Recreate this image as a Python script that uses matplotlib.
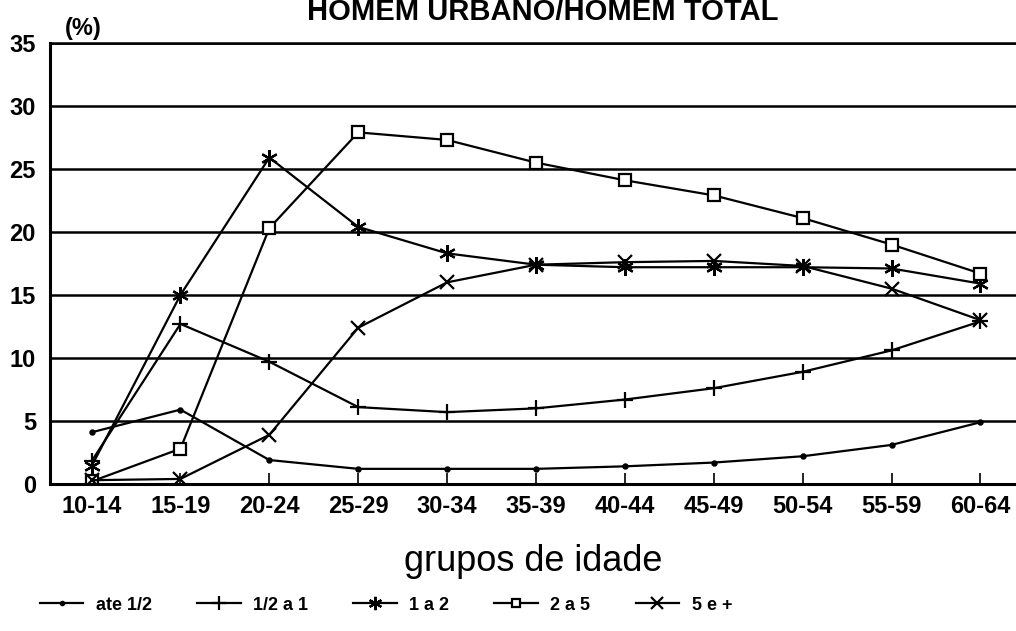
import numpy as np
import matplotlib
matplotlib.use('Agg')
import matplotlib.pyplot as plt

# age groups
grupos = ['10-14', '15-19', '20-24', '25-29', '30-34', '35-39',
          '40-44', '45-49', '50-54', '55-59', '60-64']

# percent values
ate_meio = [4.1, 5.9, 1.9, 1.2, 1.2, 1.2, 1.4, 1.7, 2.2, 3.1, 4.9]
meio_a_1 = [1.8, 12.7, 9.7, 6.1, 5.7, 6.0, 6.7, 7.6, 8.9, 10.6, 12.9]
um_a_2 = [1.4, 15.0, 25.9, 20.4, 18.3, 17.4, 17.2, 17.2, 17.2, 17.1, 15.9]
dois_a_5 = [0.2, 2.8, 20.3, 27.9, 27.3, 25.5, 24.1, 22.9, 21.1, 19.0, 16.7]
cinco_mais = [0.3, 0.4, 3.9, 12.4, 16.0, 17.4, 17.6, 17.7, 17.3, 15.5, 13.0]

yticks = [0, 5, 10, 15, 20, 25, 30, 35]

plt.rcParams['font.family'] = ['Liberation Sans', 'DejaVu Sans']

fig = plt.figure(figsize=(10.16, 6.31), dpi=100)
ax = fig.add_axes([0.049, 0.233, 0.951, 0.699])

x = np.arange(len(grupos))
kw = dict(color='black', lw=1.6, markeredgewidth=1.6)
ax.plot(x, ate_meio, marker='.', ms=6, label='ate 1/2', **kw)
ax.plot(x, meio_a_1, marker='+', ms=12, label='1/2 a 1', **kw)
ax.plot(x, um_a_2, marker=(6, 2, 0), ms=12, label='1 a 2', **kw)
ax.plot(x, dois_a_5, marker='s', ms=8, mfc='white', label='2 a 5', **kw)
ax.plot(x, cinco_mais, marker='x', ms=10, label='5 e +', **kw)

ax.set_xlim(-0.47, 10.4)
ax.set_ylim(0, 35)
ax.set_yticks(yticks)
ax.set_xticks(x)
ax.set_xticklabels(grupos, fontsize=17, fontweight='bold')
ax.set_yticklabels([str(v) for v in yticks], fontsize=17, fontweight='bold')
ax.tick_params(axis='x', direction='in', length=8, width=1.2, pad=8)
ax.tick_params(axis='y', length=0, pad=10)

for v in yticks[1:]:
    ax.axhline(v, color='black', lw=1.8, zorder=0)

for s in ['left', 'bottom']:
    ax.spines[s].set_linewidth(2.2)
ax.spines['top'].set_linewidth(1.8)
ax.spines['right'].set_visible(False)

ax.set_xlabel('grupos de idade', fontsize=26)
ax.xaxis.set_label_coords(0.5, -0.135)

fig.text(0.064, 0.955, '(%)', fontsize=17, fontweight='bold', ha='left', va='center')
fig.text(0.534, 0.968, 'HOMEM URBANO/HOMEM TOTAL', fontsize=21, fontweight='bold',
         ha='center', va='baseline')

ax.legend(loc='center', bbox_to_anchor=(0.38, 0.041), bbox_transform=fig.transFigure,
          ncol=5, frameon=False, prop={'size': 13, 'weight': 'bold'},
          handlelength=2.4, handletextpad=0.7, columnspacing=2.5, markerscale=0.8)

fig.savefig('out.png', dpi=100)
